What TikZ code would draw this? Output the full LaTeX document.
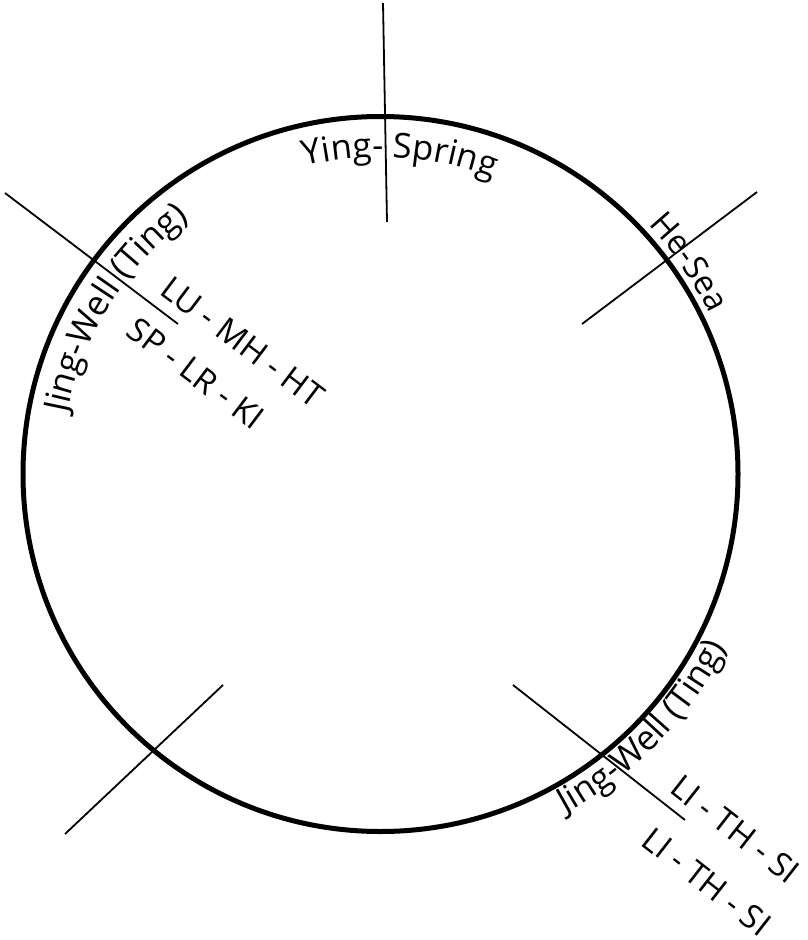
\documentclass[tikz,border=0pt]{standalone}
\usepackage{fontspec}
\setmainfont{Open Sans}
\usetikzlibrary{decorations.text}
\newcommand\lblfont{\fontsize{33}{40}\selectfont}
\newcommand\arcfont{\fontsize{34.5}{41}\selectfont}
\tikzset{
  ring/.style={line width=5pt},
  tick/.style={line width=1.8pt},
  lbl/.style={font=\lblfont, inner sep=0pt, anchor=base west},
  arclbl/.style={decorate, decoration={text along path, text align=center, text={#1}}}
}
\begin{document}
\begin{tikzpicture}[x=1pt,y=1pt]
\useasboundingbox (0,-940) rectangle (807,0);
\coordinate (cen) at (380.5,-474);
\draw[ring] (cen) circle[radius=357.5];
% ticks
\coordinate (t1a) at (383,-3);   \coordinate (t1b) at (387,-222);
\coordinate (t2a) at (757,-192); \coordinate (t2b) at (582,-324);
\coordinate (t3a) at (5,-193);   \coordinate (t3b) at (178,-324);
\coordinate (t4a) at (65,-834);  \coordinate (t4b) at (223,-685);
\coordinate (t5a) at (513,-685); \coordinate (t5b) at (685,-820);
\draw[tick] (t1a) -- (t1b);
\draw[tick] (t2a) -- (t2b);
\draw[tick] (t3a) -- (t3b);
\draw[tick] (t4a) -- (t4b);
\draw[tick] (t5a) -- (t5b);
% curved labels
\path[arclbl={|\arcfont|Ying- Spring}] (cen) ++(111.5:317) arc[start angle=111.5, end angle=61.5, radius=317];
\path[arclbl={|\arcfont|Jing-Well (Ting)}] (cen) ++(174:319) arc[start angle=174, end angle=122, radius=319];
\path[arclbl={|\lblfont|He-Sea}] (cen) ++(49.5:366) arc[start angle=49.5, end angle=19.5, radius=366];
\path[arclbl={|\arcfont|Jing-Well (Ting)}] (cen) ++(-75:387) arc[start angle=-75, end angle=-13, radius=387];
% straight labels
\node[lbl, rotate=-37] (lu) at (158.3,-293.1) {LU - MH - HT};
\node[lbl, rotate=-37] (sp) at (124.6,-334.2) {SP - LR - KI};
\node[lbl, rotate=-38] (li1) at (668.2,-791.5) {LI - TH - SI};
\node[lbl, rotate=-38] (li2) at (639.6,-844.2) {LI - TH - SI};
\end{tikzpicture}
\end{document}
